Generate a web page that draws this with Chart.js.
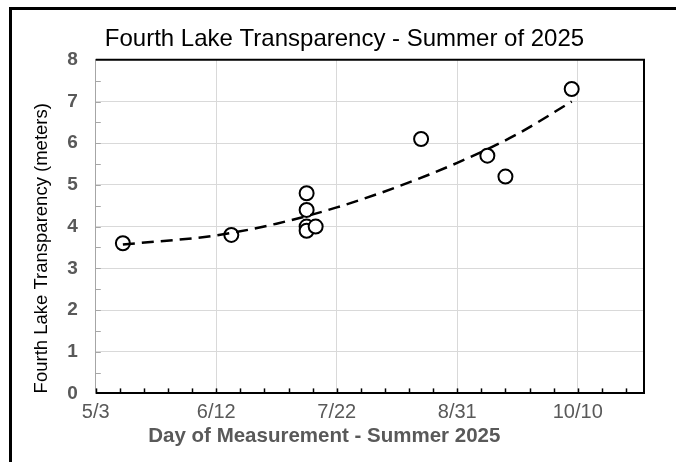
<!DOCTYPE html>
<html lang="en">
<head>
    <meta charset="UTF-8">
    <title>Fourth Lake Transparency - Summer of 2025</title>
    <script src="https://cdn.jsdelivr.net/npm/chart.js"></script>
    <style>
        body { margin: 0; background: #fff; }
        #box {
            position: absolute; left: 9px; top: 7px;
            width: 667px; height: 455px;
            border-left: 3px solid #000; border-top: 3px solid #000;
        }
    </style>
</head>
<body>
    <div id="box"><canvas id="lakeChart" width="664" height="452"></canvas></div>

    <script>
        // measurement days (M/D, 2025) and Secchi transparency in meters
        const measureDates = ["5/12", "6/17", "7/12", "7/12", "7/12", "7/12", "7/15", "8/19", "9/10", "9/16", "10/8"];
        const transparency = [3.6, 3.8, 4.8, 4.4, 4.0, 3.9, 4.0, 6.1, 5.7, 5.2, 7.3];

        // trendline
        const trendDates = ["5/12", "6/12", "7/2", "7/22", "8/11", "8/31", "9/20", "10/8"];
        const trendValues = [3.57, 3.79, 4.07, 4.46, 4.95, 5.53, 6.22, 7.0];

        const axisStart = "5/3";
        const axisEnd = "11/1";
        const yTicks = [0, 1, 2, 3, 4, 5, 6, 7, 8];

        // days since axis start
        const origin = new Date(2025, 4, 3);
        function dayNum(md) {
            const [m, d] = md.split("/").map(Number);
            return Math.round((new Date(2025, m - 1, d) - origin) / 86400000);
        }
        function dayLabel(n) {
            const d = new Date(2025, 4, 3 + n);
            return (d.getMonth() + 1) + "/" + d.getDate();
        }

        const gray = "#595959";
        const font = "'Liberation Sans', Arial, sans-serif";

        // inward minor ticks + top/right frame
        const framePlugin = {
            id: "frame",
            afterDraw(chart) {
                const { ctx, chartArea: a, scales } = chart;
                ctx.save();
                ctx.lineWidth = 1.5;
                ctx.strokeStyle = "#000";
                for (let v = 0; v <= dayNum(axisEnd); v += 8) {
                    const x = Math.round(scales.x.getPixelForValue(v)) + 0.5;
                    ctx.beginPath(); ctx.moveTo(x, a.bottom); ctx.lineTo(x, a.bottom - 5); ctx.stroke();
                }
                ctx.strokeStyle = "#a6a6a6";
                ctx.lineWidth = 1;
                for (let v = 0.5; v < 8; v += 0.5) {
                    const y = Math.round(scales.y.getPixelForValue(v)) + 0.5;
                    ctx.beginPath(); ctx.moveTo(a.left, y); ctx.lineTo(a.left + 5, y); ctx.stroke();
                }
                ctx.strokeStyle = "#000";
                ctx.lineWidth = 2;
                ctx.beginPath();
                ctx.moveTo(a.left, a.top); ctx.lineTo(a.right, a.top); ctx.lineTo(a.right, a.bottom);
                ctx.stroke();
                ctx.restore();
            }
        };

        new Chart(document.getElementById("lakeChart"), {
            type: "scatter",
            data: {
                datasets: [
                    {
                        type: "line",
                        label: "Trend",
                        data: trendDates.map((d, i) => ({ x: dayNum(d), y: trendValues[i] })),
                        borderColor: "#000",
                        borderWidth: 2.5,
                        borderDash: [12, 7],
                        pointRadius: 0,
                        fill: false,
                        cubicInterpolationMode: "monotone"
                    },
                    {
                        label: "Transparency",
                        data: measureDates.map((d, i) => ({ x: dayNum(d), y: transparency[i] })),
                        pointStyle: "circle",
                        pointRadius: 7,
                        pointBorderWidth: 2,
                        borderColor: "#000",
                        backgroundColor: "#fff"
                    }
                ]
            },
            options: {
                responsive: false,
                animation: false,
                layout: { padding: { left: 33, right: 32, top: 4, bottom: 13 } },
                plugins: {
                    legend: { display: false },
                    tooltip: { enabled: false },
                    title: {
                        display: true,
                        text: "Fourth Lake Transparency - Summer of 2025",
                        color: "#000",
                        font: { family: font, size: 24, weight: "normal" },
                        padding: { top: 11, bottom: 6 }
                    }
                },
                scales: {
                    x: {
                        type: "linear",
                        min: dayNum(axisStart),
                        max: dayNum(axisEnd),
                        grid: { color: "#d9d9d9", drawTicks: false },
                        border: { color: "#000", width: 2 },
                        ticks: {
                            stepSize: 40,
                            color: gray,
                            padding: 7,
                            font: { family: font, size: 20 },
                            callback: v => (v % 40 === 0 ? dayLabel(v) : "")
                        },
                        title: {
                            display: true,
                            // trailing blanks push the title left, as in the original
                            text: "Day of Measurement - Summer 2025" + " ".repeat(16),
                            color: gray,
                            font: { family: font, size: 20.5, weight: "bold" },
                            padding: { top: -7, bottom: 0 }
                        }
                    },
                    y: {
                        min: yTicks[0],
                        max: yTicks[yTicks.length - 1],
                        grid: { color: "#d9d9d9", drawTicks: false },
                        border: { color: "#a6a6a6", width: 1 },
                        ticks: {
                            stepSize: 1,
                            color: gray,
                            padding: 18,
                            font: { family: font, size: 19, weight: "bold" }
                        },
                        title: {
                            display: true,
                            align: "start",
                            text: "Fourth Lake Transparency (meters)",
                            color: "#000",
                            font: { family: font, size: 18.5 },
                            padding: { top: -14, bottom: -4 }
                        }
                    }
                }
            },
            plugins: [framePlugin]
        });
    </script>
</body>
</html>
